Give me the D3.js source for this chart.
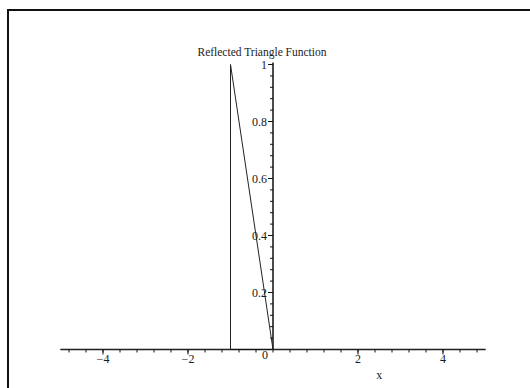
<!DOCTYPE html>
<meta charset="utf-8">
<script src="https://d3js.org/d3.v7.min.js"></script>
<style>
  body { margin: 0; background: #fff; }
  text { font-family: "Liberation Serif", "Times New Roman", serif; fill: #1a1a1a; }
</style>
<div id="chart"></div>
<script>
// data: reflected triangle function
var xs = [-5, -1, -1, 0, 5];
var ys = [0, 0, 1, 0, 0];
var xMajor = [-4, -2, 2, 4];
var yMajor = [0.2, 0.4, 0.6, 0.8, 1];
var title = "Reflected Triangle Function";

var W = 530, H = 388;

var svg = d3.select("#chart").append("svg")
    .attr("width", W)
    .attr("height", H);

// frame (runs off the right and bottom edge)
svg.append("rect")
    .attr("x", 8).attr("y", 10)
    .attr("width", 540).attr("height", 400)
    .attr("fill", "none")
    .attr("stroke", "#111")
    .attr("stroke-width", 2);

var x = d3.scaleLinear().domain([-5, 5]).range([60.5, 485.5]);
var y = d3.scaleLinear().domain([0, 1]).range([349.5, 64.5]);

// x axis through y = 0
var xMinor = d3.range(-4.8, 5, 0.4).map(function(d) { return +d.toFixed(1); });
var gx = svg.append("g").attr("transform", "translate(0," + y(0) + ")");
gx.append("line")
    .attr("x1", x(-5)).attr("x2", x(5))
    .attr("stroke", "#111").attr("stroke-width", 1.5);
gx.selectAll(".mn").data(xMinor).enter().append("line")
    .attr("x1", function(d) { return x(d); }).attr("x2", function(d) { return x(d); })
    .attr("y1", 0).attr("y2", 3)
    .attr("stroke", "#111");
gx.selectAll(".mj").data(xMajor).enter().append("line")
    .attr("x1", function(d) { return x(d); }).attr("x2", function(d) { return x(d); })
    .attr("y1", 0).attr("y2", 5)
    .attr("stroke", "#111");
gx.selectAll(".lb").data(xMajor).enter().append("text")
    .attr("x", function(d) { return x(d); })
    .attr("y", 13)
    .attr("text-anchor", "middle")
    .style("font-size", "12px")
    .text(function(d) { return d < 0 ? "\u2212" + (-d) : d; });
gx.append("text")
    .attr("x", x(0) - 5).attr("y", 9)
    .attr("text-anchor", "end")
    .style("font-size", "12px")
    .text("0");
svg.append("text")
    .attr("x", x(2.5)).attr("y", 379)
    .attr("text-anchor", "middle")
    .style("font-size", "12px")
    .text("x");

// y axis through x = 0
var yMinor = d3.range(0.04, 1.001, 0.04).map(function(d) { return +d.toFixed(2); });
var gy = svg.append("g").attr("transform", "translate(" + x(0) + ",0)");
gy.append("line")
    .attr("y1", y(0)).attr("y2", y(1) - 2)
    .attr("stroke", "#111").attr("stroke-width", 1.5);
gy.selectAll(".mn").data(yMinor).enter().append("line")
    .attr("y1", function(d) { return y(d); }).attr("y2", function(d) { return y(d); })
    .attr("x1", -3).attr("x2", 0)
    .attr("stroke", "#111");
gy.selectAll(".mj").data(yMajor).enter().append("line")
    .attr("y1", function(d) { return y(d); }).attr("y2", function(d) { return y(d); })
    .attr("x1", -5).attr("x2", 0)
    .attr("stroke", "#111");
gy.selectAll(".lb").data(yMajor).enter().append("text")
    .attr("x", -6)
    .attr("y", function(d) { return y(d) + 4; })
    .attr("text-anchor", "end")
    .style("font-size", "12px")
    .text(function(d) { return d; });

// the curve
var pts = xs.map(function(d, i) { return [d, ys[i]]; });
svg.append("path")
    .datum(pts)
    .attr("d", d3.line().x(function(d) { return x(d[0]); }).y(function(d) { return y(d[1]); }))
    .attr("fill", "none")
    .attr("stroke", "#222")
    .attr("stroke-width", 1);

// title
svg.append("text")
    .attr("x", 262).attr("y", 56)
    .attr("text-anchor", "middle")
    .style("font-size", "11.5px")
    .text(title);
</script>
